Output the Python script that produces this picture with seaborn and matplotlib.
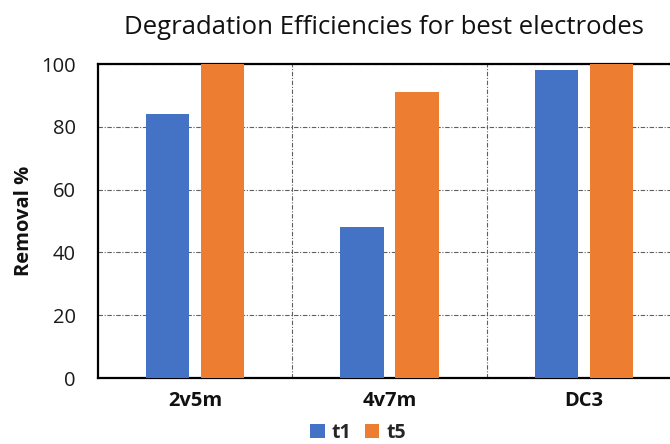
import matplotlib
matplotlib.use("Agg")
import matplotlib.pyplot as plt
from matplotlib.patches import Patch
import seaborn as sns
import pandas as pd

# Removal efficiencies (%) of the best electrodes at two sampling times
electrodes = ["2v5m", "4v7m", "DC3"]
t1_removal = [84, 48, 98]
t5_removal = [100, 91, 100]
times = ["t1", "t5"]
colors = ["#4472C4", "#ED7D31"]
y_ticks = [0, 20, 40, 60, 80, 100]

df = pd.DataFrame({
    "electrode": electrodes * 2,
    "time": [times[0]] * len(electrodes) + [times[1]] * len(electrodes),
    "removal": t1_removal + t5_removal,
})

sns.set_theme(style="white")
plt.rcParams["font.family"] = ["Open Sans", "DejaVu Sans"]

fig = plt.figure(figsize=(6.7, 4.44), dpi=100)
ax_left, ax_right, ax_top, ax_bottom = 98, 681, 64, 378
ax = fig.add_axes([ax_left / 670, 1 - ax_bottom / 444,
                   (ax_right - ax_left) / 670, (ax_bottom - ax_top) / 444])

sns.barplot(data=df, x="electrode", y="removal", hue="time",
            palette=colors, width=0.566, gap=0.218, saturation=1,
            linewidth=0, edgecolor="none",
            ax=ax, legend=False, zorder=3)

ax.set_xlim(-0.5, len(electrodes) - 0.5)
ax.set_ylim(0, 100)
ax.set_yticks(y_ticks)
ax.set_yticklabels([str(v) for v in y_ticks], fontsize=14.5, color="#1a1a1a")
ax.set_xticks(range(len(electrodes)))
ax.set_xticklabels(electrodes, fontsize=14.5, fontweight="bold", color="#111111")
ax.set_xticks([i + 0.5 for i in range(len(electrodes) - 1)], minor=True)
ax.tick_params(axis="y", length=0, pad=16)
ax.tick_params(axis="x", which="both", length=0, pad=9)

ax.set_xlabel("")
ax.set_ylabel("Removal %", fontsize=14.5, fontweight="bold", color="#111111")
ax.yaxis.set_label_coords(-64 / (ax_right - ax_left), 0.5)

# dash-dot gridlines: horizontal at y ticks, vertical between groups
grid_style = dict(linestyle=(0, (4, 1.5, 1, 1.5)), color="#606060",
                  linewidth=0.8, zorder=0)
ax.yaxis.grid(True, which="major", **grid_style)
ax.xaxis.grid(True, which="minor", **grid_style)
ax.xaxis.grid(False, which="major")
ax.set_axisbelow(True)

for side in ["left", "bottom", "top"]:
    ax.spines[side].set_visible(True)
    ax.spines[side].set_color("black")
    ax.spines[side].set_linewidth(1.6)
ax.spines["right"].set_visible(False)

fig.text(384 / 670, 1 - 28 / 444, "Degradation Efficiencies for best electrodes",
         ha="center", va="center", fontsize=18.5, color="#111111")

handles = [Patch(facecolor=c, edgecolor="none") for c in colors]
fig.legend(handles, times, loc="center", bbox_to_anchor=(358 / 670, 1 - 433 / 444),
           ncol=2, frameon=False, handlelength=0.75, handleheight=0.75,
           handletextpad=0.35, columnspacing=0.7,
           prop={"weight": "bold", "size": 14})

fig.savefig("out.png", dpi=100)
